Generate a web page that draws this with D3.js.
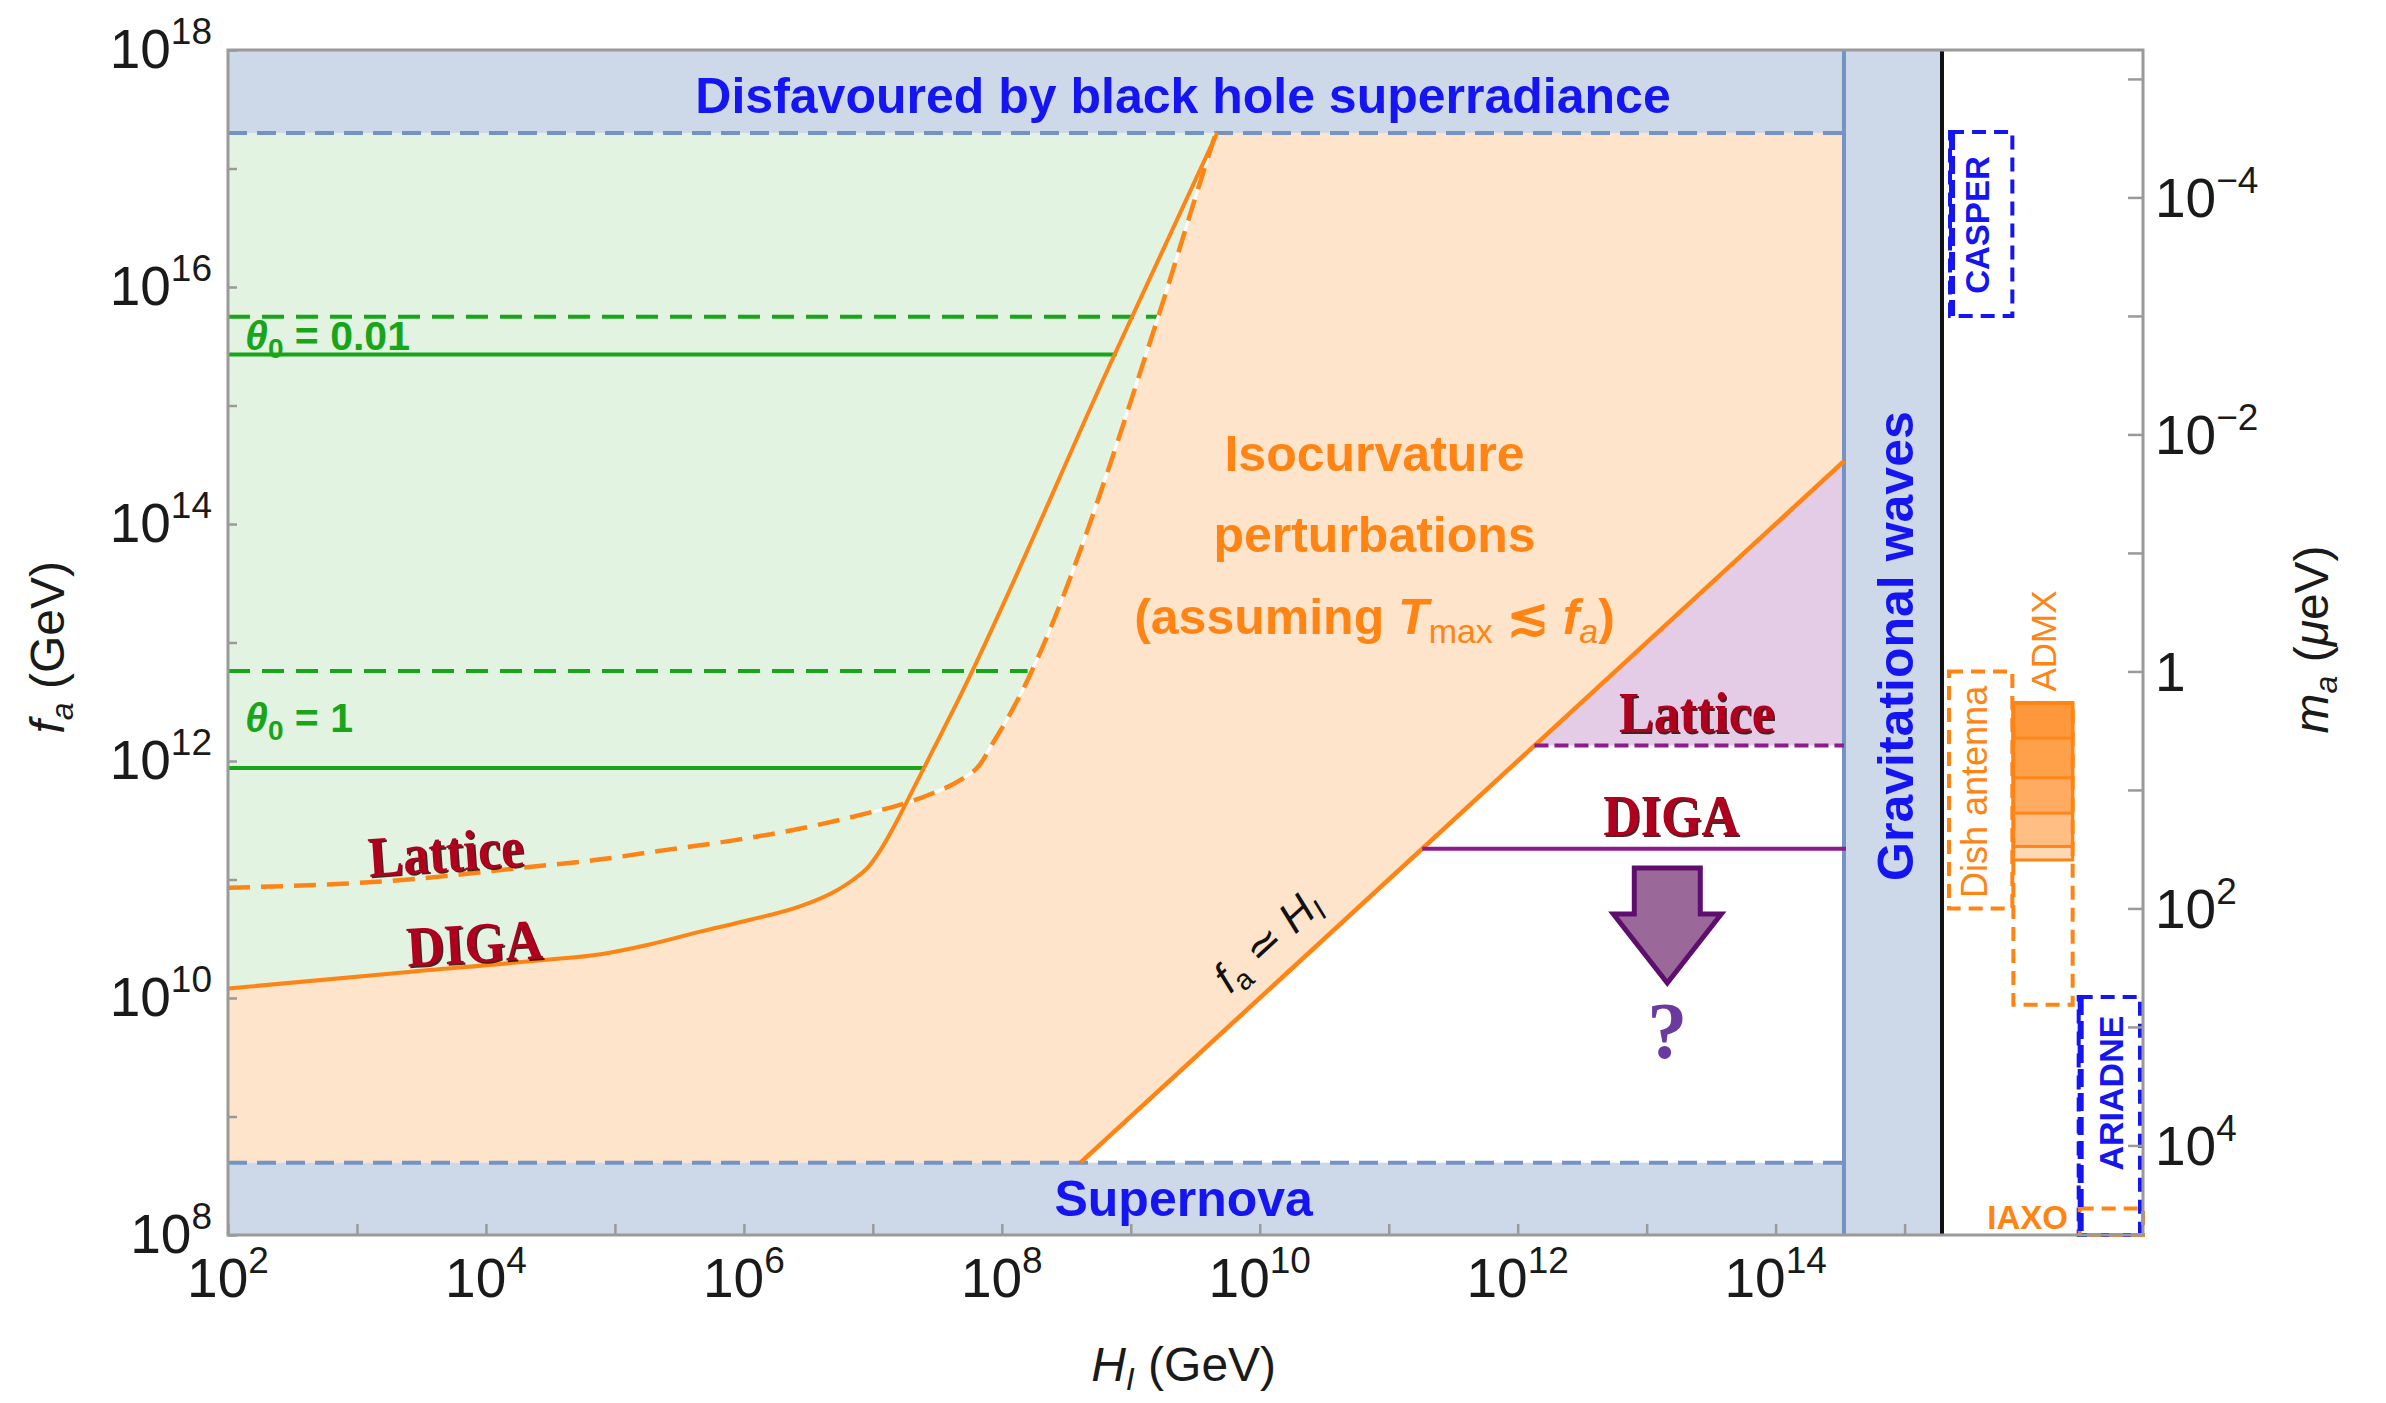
<!DOCTYPE html>
<html>
<head>
<meta charset="utf-8">
<title>Axion decay constant vs inflationary Hubble scale</title>
<script src="https://cdn.jsdelivr.net/npm/d3@7/dist/d3.min.js"></script>
<style>
  html, body { margin: 0; padding: 0; background: #fff; }
  svg { display: block; }
</style>
</head>
<body>
<svg id="chart" width="2386" height="1403"></svg>
<script>
// ---------------- data (log10 of GeV unless noted) ----------------
const hubbleExtentLog = [2, 15.29];      // H_I axis
const decayExtentLog = [8, 18];          // f_a axis
const massScale = 5.7e12;                // m_a [μeV] = massScale / f_a [GeV]

const xTickExps = [2, 3, 4, 5, 6, 7, 8, 9, 10, 11, 12, 13, 14, 15];
const xLabelExps = [2, 4, 6, 8, 10, 12, 14];
const yTickExps = [8, 9, 10, 11, 12, 13, 14, 15, 16, 17, 18];
const yLabelExps = [8, 10, 12, 14, 16, 18];
const massTickExps = [-5, -4, -3, -2, -1, 0, 1, 2, 3, 4];
const massLabelExps = [-4, -2, 0, 2, 4];

const superradianceLog = 17.30;          // black hole superradiance bound
const supernovaLog = 8.61;               // supernova bound
const gravWaveLog = 14.53;               // tensor-mode bound on H_I

// isocurvature boundary, DIGA topological susceptibility (solid)
const digaLogH = [2.00, 3.40, 4.44, 4.89, 5.26, 5.66, 6.05, 6.44, 6.69, 6.85, 6.96, 7.06, 7.16, 7.27, 7.47, 7.66, 8.87, 9.67];
const digaLogF = [10.08, 10.22, 10.32, 10.37, 10.45, 10.56, 10.66, 10.775, 10.89, 11.00, 11.10, 11.25, 11.44, 11.67, 12.10, 12.51, 15.42, 17.30];
// isocurvature boundary, lattice topological susceptibility (dashed)
const latticeLogH = [2.00, 3.40, 4.29, 4.89, 5.40, 5.92, 6.44, 6.96, 7.27, 7.47, 7.68, 7.83, 7.93, 8.04, 8.12, 9.21, 9.56, 9.66];
const latticeLogF = [10.93, 11.00, 11.10, 11.17, 11.25, 11.33, 11.43, 11.56, 11.65, 11.73, 11.84, 11.97, 12.15, 12.35, 12.51, 15.74, 16.96, 17.30];
const crossingLogH = 7.25;               // where the two boundaries cross

// misalignment angle contours: solid = DIGA, dashed = lattice
const thetaNames = ["0.01", "1"];
const thetaSolidLogF = [15.43, 11.94];
const thetaSolidEndLogH = [8.89, 7.39];
const thetaDashedLogF = [15.75, 12.76];
const thetaDashedEndLogH = [9.21, 8.20];

// post-inflationary lower bounds on f_a
const postLatticeLogF = 12.13;
const postDigaLogF = 11.26;

// haloscope / helioscope reach in m_a (μeV)
const expNames = ["CASPER", "Dish antenna", "ADMX", "ARIADNE", "IAXO"];
const expMassLow = [2.8e-5, 1.0, 1.85, 560, 3.4e4];
const expMassHigh = [1.0e-3, 100, 650, 5.7e4, 5.7e4];
const expColors = ["blue", "orange", "orange", "blue", "orange"];
const admxRunLow = 1.85;
const admxRunHigh = [3.65, 7.9, 15.7, 30, 39];

// ---------------- styling ----------------
const SANS = '"Liberation Sans", Arial, Helvetica, sans-serif';
const SERIF = '"Liberation Serif", "Times New Roman", serif';
const C = {
  band: "#cdd8e8", bandLine: "#7593c2", green: "#19a519", greenFill: "#e2f3e2",
  orange: "#ff8414", orangeFill: "#fde4cb", purple: "#8d1b8d", purpleFill: "#e4cbe6",
  blue: "#1515f2", axis: "#9a9a9a", label: "#1a1a1a", red: "#b0001e"
};
const colorOf = { blue: C.blue, orange: C.orange };

const svg = d3.select("#chart");
const plot = { left: 228, right: 1942, top: 50, bottom: 1235, outer: 2143 };

const x = d3.scaleLog().domain(hubbleExtentLog.map(v => 10 ** v)).range([plot.left, plot.right]);
const y = d3.scaleLog().domain(decayExtentLog.map(v => 10 ** v)).range([plot.bottom, plot.top]);
const m = d3.scaleLog().domain([massScale / y.domain()[0], massScale / y.domain()[1]]).range([plot.bottom, plot.top]);
const col = d3.scaleLinear().domain([0, 1]).range([plot.right, plot.outer]);

const X = lh => x(10 ** lh), Y = lf => y(10 ** lf);
const pts = (hs, fs) => hs.map((h, i) => [10 ** h, 10 ** fs[i]]);
const smooth = d3.line().x(d => x(d[0])).y(d => y(d[1])).curve(d3.curveMonotoneX);
const straight = d3.line().x(d => x(d[0])).y(d => y(d[1]));

const h0 = x.domain()[0], sr = 10 ** superradianceLog, sn = 10 ** supernovaLog, gw = 10 ** gravWaveLog;
const diga = pts(digaLogH, digaLogF);
const lattice = pts(latticeLogH, latticeLogF);

// ---------------- filled regions ----------------
const gFill = svg.append("g");
// isocurvature-excluded region (above f_a = H_I)
gFill.append("path")
  .attr("d", straight([[h0, sn], [sn, sn], [gw, gw], [gw, sr], [h0, sr]]) + "Z")
  .attr("fill", C.orangeFill);
// allowed pre-inflationary region: above either boundary
[diga, lattice].forEach(c => {
  gFill.append("path")
    .attr("d", smooth(c) + `L${x(h0)},${y(sr)}Z`)
    .attr("fill", C.greenFill);
});
// post-inflationary lattice-excluded wedge
const pl = 10 ** postLatticeLogF;
gFill.append("path")
  .attr("d", straight([[pl, pl], [gw, gw], [gw, pl]]) + "Z")
  .attr("fill", C.purpleFill);

// bounds bands
gFill.append("rect").attr("x", plot.left).attr("y", plot.top)
  .attr("width", x(gw) - plot.left).attr("height", y(sr) - plot.top).attr("fill", C.band);
gFill.append("rect").attr("x", plot.left).attr("y", y(sn))
  .attr("width", x(gw) - plot.left).attr("height", plot.bottom - y(sn)).attr("fill", C.band);
gFill.append("rect").attr("x", x(gw)).attr("y", plot.top)
  .attr("width", plot.right - x(gw)).attr("height", plot.bottom - plot.top).attr("fill", C.band);

// ---------------- lines ----------------
const gLines = svg.append("g").attr("fill", "none").attr("stroke-linecap", "butt");
gLines.append("line").attr("x1", plot.left).attr("x2", x(gw)).attr("y1", y(sr)).attr("y2", y(sr))
  .attr("stroke", C.bandLine).attr("stroke-width", 4).attr("stroke-dasharray", "19,10");
gLines.append("line").attr("x1", plot.left).attr("x2", x(gw)).attr("y1", y(sn)).attr("y2", y(sn))
  .attr("stroke", C.bandLine).attr("stroke-width", 4).attr("stroke-dasharray", "19,10");
gLines.append("line").attr("x1", x(gw)).attr("x2", x(gw)).attr("y1", plot.top).attr("y2", plot.bottom)
  .attr("stroke", C.bandLine).attr("stroke-width", 4);
gLines.append("line").attr("x1", plot.right).attr("x2", plot.right).attr("y1", plot.top).attr("y2", plot.bottom)
  .attr("stroke", "#111").attr("stroke-width", 4);

// theta contours
thetaNames.forEach((t, i) => {
  gLines.append("line").attr("x1", plot.left).attr("x2", X(thetaSolidEndLogH[i]))
    .attr("y1", Y(thetaSolidLogF[i])).attr("y2", Y(thetaSolidLogF[i]))
    .attr("stroke", C.green).attr("stroke-width", 4);
  gLines.append("line").attr("x1", plot.left).attr("x2", X(thetaDashedEndLogH[i]))
    .attr("y1", Y(thetaDashedLogF[i])).attr("y2", Y(thetaDashedLogF[i]))
    .attr("stroke", C.green).attr("stroke-width", 4).attr("stroke-dasharray", "22,12");
});

// isocurvature boundaries
const latticeUpper = lattice.filter(d => Math.log10(d[0]) >= crossingLogH - 0.3);
gLines.append("path").attr("d", smooth(latticeUpper)).attr("stroke", "#fff").attr("stroke-width", 3);
gLines.append("path").attr("d", smooth(lattice)).attr("stroke", C.orange).attr("stroke-width", 4.5)
  .attr("stroke-dasharray", "22,11");
gLines.append("path").attr("d", smooth(diga)).attr("stroke", C.orange).attr("stroke-width", 4);
// f_a = H_I
gLines.append("path").attr("d", straight([[sn, sn], [gw, gw]])).attr("stroke", C.orange).attr("stroke-width", 4.5);

// post-inflationary bounds
const pd = 10 ** postDigaLogF;
gLines.append("line").attr("x1", x(pl)).attr("x2", x(gw)).attr("y1", y(pl)).attr("y2", y(pl))
  .attr("stroke", C.purple).attr("stroke-width", 4).attr("stroke-dasharray", "14,6");
gLines.append("line").attr("x1", x(pd)).attr("x2", x(gw) + 2).attr("y1", y(pd)).attr("y2", y(pd))
  .attr("stroke", C.purple).attr("stroke-width", 4);

// arrow pointing to smaller f_a
const ax = X(13.16), ay = Y(11.097);
const arrowShape = [[-33, 0], [33, 0], [33, 46], [54, 46], [0, 115], [-54, 46], [-33, 46]];
svg.append("path")
  .attr("d", d3.line()(arrowShape.map(p => [ax + p[0], ay + p[1]])) + "Z")
  .attr("fill", "#9b689a").attr("stroke", "#5e0e6c").attr("stroke-width", 5).attr("stroke-linejoin", "miter");
svg.append("text").attr("x", ax).attr("y", Y(9.494)).attr("text-anchor", "middle")
  .attr("font-family", SERIF).attr("font-weight", "bold").attr("font-size", 80)
  .attr("fill", "#6a3a9e").text("?");

// ---------------- right panel: experiments ----------------
const expCols = { "CASPER": [0.04, 0.35], "Dish antenna": [0.035, 0.35], "ADMX": [0.355, 0.65],
                  "ARIADNE": [0.68, 0.985], "IAXO": [0.685, 1.0] };
const gExp = svg.append("g").attr("fill", "none");
expNames.forEach((n, i) => {
  const [c0, c1] = expCols[n];
  gExp.append("rect")
    .attr("x", col(c0)).attr("width", col(c1) - col(c0))
    .attr("y", m(expMassLow[i])).attr("height", m(expMassHigh[i]) - m(expMassLow[i]))
    .attr("stroke", colorOf[expColors[i]]).attr("stroke-width", 4).attr("stroke-dasharray", "14,8");
});
// thicker dashed inner edges
[["CASPER", 0], ["ARIADNE", 3]].forEach(([n, i]) => {
  const c0 = expCols[n][0];
  gExp.append("line").attr("x1", col(c0) + 2).attr("x2", col(c0) + 2)
    .attr("y1", m(expMassLow[i])).attr("y2", m(expMassHigh[i]))
    .attr("stroke", C.blue).attr("stroke-width", 6).attr("stroke-dasharray", "18,6");
});
// ADMX runs: nested, semi-transparent
admxRunHigh.forEach(hi => {
  const [c0, c1] = expCols["ADMX"];
  gExp.append("rect").attr("x", col(c0)).attr("width", col(c1) - col(c0))
    .attr("y", m(admxRunLow)).attr("height", m(hi) - m(admxRunLow))
    .attr("fill", "#ff8a1f").attr("fill-opacity", 0.33)
    .attr("stroke", C.orange).attr("stroke-width", 3);
});

function vText(g, txt, px, py, opts) {
  return g.append("text")
    .attr("transform", `translate(${px},${py}) rotate(-90)`)
    .attr("text-anchor", opts.anchor || "middle")
    .attr("font-family", SANS).attr("font-weight", opts.weight || "bold")
    .attr("font-size", opts.size).attr("fill", opts.fill).text(txt);
}
const gExpText = svg.append("g");
vText(gExpText, "CASPER", col(0.234), m(10 ** -3.767), { size: 33, fill: C.blue });
vText(gExpText, "Dish antenna", col(0.224), m(10 ** 1.912), { size: 36, fill: C.orange, weight: "normal", anchor: "start" });
vText(gExpText, "ADMX", col(0.567), m(10 ** -0.257), { size: 35, fill: C.orange, weight: "normal" });
vText(gExpText, "ARIADNE", col(0.90), m(10 ** 3.558), { size: 34, fill: C.blue });
gExpText.append("text").attr("x", col(0.627)).attr("y", m(10 ** 4.705)).attr("text-anchor", "end")
  .attr("font-family", SANS).attr("font-weight", "bold").attr("font-size", 33).attr("fill", C.orange).text("IAXO");

// ---------------- annotations ----------------
const gAnn = svg.append("g").attr("font-family", SANS);
gAnn.append("text").attr("x", X(9.405)).attr("y", Y(17.468)).attr("text-anchor", "middle")
  .attr("font-weight", "bold").attr("font-size", 50).attr("fill", C.blue)
  .text("Disfavoured by black hole superradiance");
gAnn.append("text").attr("x", X(9.41)).attr("y", Y(8.16)).attr("text-anchor", "middle")
  .attr("font-weight", "bold").attr("font-size", 50).attr("fill", C.blue).text("Supernova");
vText(gAnn, "Gravitational waves", X(15.065), Y(12.97), { size: 50, fill: C.blue });

const iso = gAnn.append("g").attr("font-weight", "bold").attr("font-size", 50).attr("fill", C.orange)
  .attr("text-anchor", "middle");
iso.append("text").attr("x", X(10.89)).attr("y", Y(14.45)).text("Isocurvature");
iso.append("text").attr("x", X(10.89)).attr("y", Y(13.765)).text("perturbations");
const as = iso.append("text").attr("x", X(10.89)).attr("y", Y(13.07));
as.append("tspan").text("(assuming ");
as.append("tspan").attr("font-style", "italic").text("T");
as.append("tspan").attr("font-size", 34).attr("font-weight", "normal").attr("dy", 9).text("max");
as.append("tspan").attr("dy", -9).text(" \u2272 ");
as.append("tspan").attr("font-style", "italic").text("f");
as.append("tspan").attr("font-size", 34).attr("font-style", "italic").attr("font-weight", "normal").attr("dy", 9).text("a");
as.append("tspan").attr("dy", -9).text(")");

// f_a ≃ H_I along the diagonal
const diagAngle = Math.atan2(y(gw) - y(sn), x(gw) - x(sn)) * 180 / Math.PI;
const fh = gAnn.append("text")
  .attr("transform", `translate(${X(9.77)},${Y(10.03)}) rotate(${diagAngle})`)
  .attr("font-size", 43).attr("fill", "#111");
fh.append("tspan").attr("font-style", "italic").text("f");
fh.append("tspan").attr("font-size", 29).attr("dy", 8).text("a");
fh.append("tspan").attr("dy", -8).text(" \u2243 ");
fh.append("tspan").attr("font-style", "italic").text("H");
fh.append("tspan").attr("font-size", 29).attr("font-style", "italic").attr("dy", 8).text("I");

// theta labels
const thetaLabelDy = [-5, -36];
thetaNames.forEach((t, i) => {
  const tt = gAnn.append("text").attr("x", plot.left + 17).attr("y", Y(thetaSolidLogF[i]) + thetaLabelDy[i])
    .attr("font-family", SANS).attr("font-weight", "bold").attr("font-size", 41).attr("fill", C.green);
  tt.append("tspan").attr("font-style", "italic").text("\u03b8");
  tt.append("tspan").attr("font-size", 28).attr("dy", 8).text("0");
  tt.append("tspan").attr("dy", -8).text(" = " + t);
});

// red serif labels with a dark shadow
function redLabel(txt, lh, lf, angle) {
  const g = svg.append("g").attr("transform", `translate(${X(lh)},${Y(lf)}) rotate(${angle}) scale(1,1.1)`)
    .attr("font-family", SERIF).attr("font-weight", "bold").attr("font-size", 52).attr("text-anchor", "middle");
  g.append("text").attr("x", 1.5).attr("y", 1.5).attr("fill", "#2a0000").attr("fill-opacity", 0.85).text(txt);
  g.append("text").attr("fill", C.red).text(txt);
}
redLabel("Lattice", 3.70, 11.07, -4);
redLabel("DIGA", 3.92, 10.30, -3.5);
redLabel("Lattice", 13.39, 12.245, 0);
redLabel("DIGA", 13.19, 11.375, 0);

// ---------------- axes ----------------
const gAxes = svg.append("g");
const styleAxis = g => {
  g.select(".domain").remove();
  g.selectAll(".tick line").attr("stroke", C.axis).attr("stroke-width", 2.5);
};
gAxes.append("g").attr("transform", `translate(0,${plot.bottom})`)
  .call(d3.axisBottom(x).tickValues(xTickExps.map(e => 10 ** e)).tickSize(-11).tickFormat(""))
  .call(styleAxis);
gAxes.append("g").attr("transform", `translate(${plot.left},0)`)
  .call(d3.axisLeft(y).tickValues(yTickExps.map(e => 10 ** e)).tickSize(-9).tickFormat(""))
  .call(styleAxis);
gAxes.append("g").attr("transform", `translate(${plot.outer},0)`)
  .call(d3.axisRight(m).tickValues(massTickExps.map(e => 10 ** e)).tickSize(-15).tickFormat(""))
  .call(styleAxis);

// frame
gAxes.append("rect").attr("x", plot.left).attr("y", plot.top)
  .attr("width", plot.outer - plot.left).attr("height", plot.bottom - plot.top)
  .attr("fill", "none").attr("stroke", C.axis).attr("stroke-width", 3);

function powerLabel(g, exp, px, py, anchor) {
  const t = g.append("text").attr("x", px).attr("y", py).attr("text-anchor", anchor)
    .attr("font-family", SANS).attr("font-size", 55).attr("fill", C.label);
  if (exp === 0) { t.text("1"); return; }
  t.append("tspan").text("10");
  t.append("tspan").attr("font-size", 37).attr("dy", -24).text(exp < 0 ? "\u2212" + (-exp) : String(exp));
}
xLabelExps.forEach(e => powerLabel(gAxes, e, X(e), plot.bottom + 62, "middle"));
yLabelExps.forEach(e => powerLabel(gAxes, e, plot.left - 16, Y(e) + 18, "end"));
massLabelExps.forEach(e => powerLabel(gAxes, e, plot.outer + 12, m(10 ** e) + 20, "start"));

// axis titles
const tx = gAxes.append("text").attr("x", X(9.41)).attr("y", plot.bottom + 146).attr("text-anchor", "middle")
  .attr("font-family", SANS).attr("font-size", 48).attr("fill", C.label);
tx.append("tspan").attr("font-style", "italic").text("H");
tx.append("tspan").attr("font-style", "italic").attr("font-size", 32).attr("dy", 9).text("I");
tx.append("tspan").attr("dy", -9).text(" (GeV)");

const ty = gAxes.append("text").attr("transform", `translate(64,${Y(12.96)}) rotate(-90)`)
  .attr("text-anchor", "middle").attr("font-family", SANS).attr("font-size", 48).attr("fill", C.label);
ty.append("tspan").attr("font-style", "italic").text("f");
ty.append("tspan").attr("font-style", "italic").attr("font-size", 32).attr("dy", 9).text("a");
ty.append("tspan").attr("dy", -9).text(" (GeV)");

const tm = gAxes.append("text").attr("transform", `translate(2328,${m(10 ** -0.27)}) rotate(-90)`)
  .attr("text-anchor", "middle").attr("font-family", SANS).attr("font-size", 48).attr("fill", C.label);
tm.append("tspan").attr("font-style", "italic").text("m");
tm.append("tspan").attr("font-style", "italic").attr("font-size", 32).attr("dy", 9).text("a");
tm.append("tspan").attr("dy", -9).text(" (");
tm.append("tspan").attr("font-style", "italic").text("\u03bc");
tm.append("tspan").text("eV)");
</script>
</body>
</html>
